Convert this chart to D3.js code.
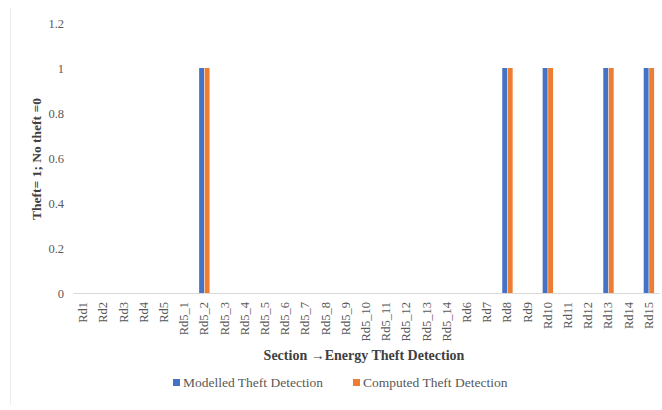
<!DOCTYPE html>
<html>
<head>
<meta charset="utf-8">
<script src="https://cdn.jsdelivr.net/npm/d3@7"></script>
<style>
  html, body { margin: 0; padding: 0; background: #fff; }
  svg { display: block; }
  svg text { font-family: "Liberation Serif", "Times New Roman", serif; }
</style>
</head>
<body>
<svg id="chart" width="662" height="410"></svg>
<script>
const categories = ["Rd1","Rd2","Rd3","Rd4","Rd5","Rd5_1","Rd5_2","Rd5_3","Rd5_4","Rd5_5","Rd5_6","Rd5_7","Rd5_8","Rd5_9","Rd5_10","Rd5_11","Rd5_12","Rd5_13","Rd5_14","Rd6","Rd7","Rd8","Rd9","Rd10","Rd11","Rd12","Rd13","Rd14","Rd15"];
const modelled = [0,0,0,0,0,0,1,0,0,0,0,0,0,0,0,0,0,0,0,0,0,1,0,1,0,0,1,0,1];
const computed = [0,0,0,0,0,0,1,0,0,0,0,0,0,0,0,0,0,0,0,0,0,1,0,1,0,0,1,0,1];
const seriesNames = ["Modelled Theft Detection", "Computed Theft Detection"];
const seriesColors = ["#4472C4", "#ED7D31"];
const yTicks = [0, 0.2, 0.4, 0.6, 0.8, 1, 1.2];

const svg = d3.select("#chart");
const font = "'Liberation Serif', 'Times New Roman', serif";
const margin = { left: 73, right: 3, top: 23, bottom: 117 };
const W = 662, H = 410;

// faint outer frame line on the left
svg.append("line").attr("x1", 10.5).attr("x2", 10.5).attr("y1", 8).attr("y2", 405)
  .attr("stroke", "#ececec").attr("stroke-width", 1);

const x = d3.scaleBand().domain(categories).range([margin.left, W - margin.right]).paddingInner(0).paddingOuter(0);
const half = x.bandwidth() / 2;
const x1 = d3.scaleBand().domain(seriesNames).range([half - 5.2, half + 5.2]).paddingInner(0.1).paddingOuter(0);
const y = d3.scaleLinear().domain([0, 1.2]).range([H - margin.bottom, margin.top]);

// y axis tick labels (no axis line)
const yAxis = d3.axisLeft(y).tickValues(yTicks).tickSize(0).tickPadding(9)
  .tickFormat(d => d3.format("~g")(d));
const gy = svg.append("g").attr("transform", `translate(${margin.left},0)`).call(yAxis);
gy.attr("font-family", null);
gy.select(".domain").remove();
gy.selectAll("text").attr("font-family", font).attr("font-size", 12.5).attr("fill", "#595959");

// bars
const data = categories.map((c, i) => ({ cat: c, vals: [modelled[i], computed[i]] }));
const groups = svg.append("g").selectAll("g").data(data).join("g")
  .attr("transform", d => `translate(${x(d.cat)},0)`);
groups.selectAll("rect").data(d => d.vals.map((v, k) => ({ v, k })).filter(e => e.v > 0)).join("rect")
  .attr("x", e => x1(seriesNames[e.k]))
  .attr("width", x1.bandwidth())
  .attr("y", e => y(e.v))
  .attr("height", e => y(0) - y(e.v))
  .attr("fill", e => seriesColors[e.k]);

// x axis
const xAxis = d3.axisBottom(x).tickSize(0).tickPadding(0);
const gx = svg.append("g").attr("transform", `translate(0,${y(0)})`).call(xAxis);
gx.attr("font-family", null);
gx.select(".domain").attr("stroke", "#d9d9d9").attr("stroke-width", 1);
gx.selectAll("text")
  .attr("font-family", font).attr("font-size", 12.5).attr("fill", "#595959")
  .attr("text-anchor", "end")
  .attr("dy", null)
  .attr("transform", "translate(4,9) rotate(-90)");

// axis titles
svg.append("text").attr("x", 364).attr("y", 360).attr("text-anchor", "middle")
  .attr("font-family", font).attr("font-size", 14).attr("font-weight", "bold").attr("fill", "#404040")
  .text("Section \u2192Energy Theft Detection");
svg.append("text").attr("transform", `translate(41,159) rotate(-90)`).attr("text-anchor", "middle")
  .attr("font-family", font).attr("font-size", 13.5).attr("font-weight", "bold").attr("fill", "#404040")
  .text("Theft= 1; No theft =0");

// legend
const legendX = [173, 353];
const legend = svg.append("g").selectAll("g").data(seriesNames).join("g")
  .attr("transform", (d, i) => `translate(${legendX[i]},383)`);
legend.append("rect").attr("x", 0).attr("y", -4).attr("width", 7).attr("height", 7)
  .attr("fill", (d, i) => seriesColors[i]);
legend.append("text").attr("x", 10).attr("y", 4)
  .attr("font-family", font).attr("font-size", 13.5).attr("fill", "#595959")
  .text(d => d);
</script>
</body>
</html>
